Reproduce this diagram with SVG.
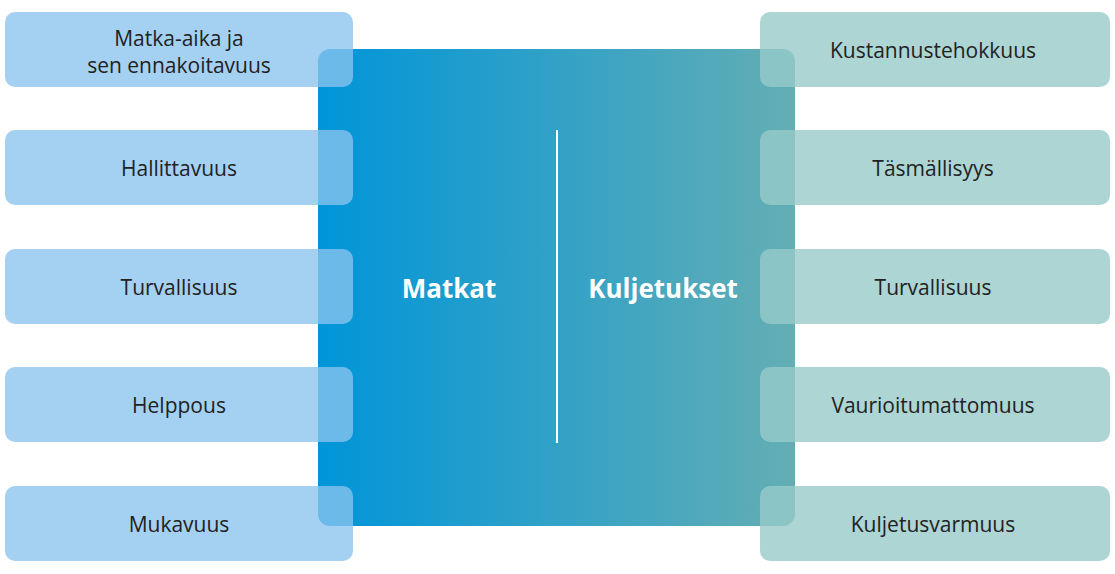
<svg xmlns="http://www.w3.org/2000/svg" width="1115" height="574" viewBox="0 0 1115 574">
<defs>
<linearGradient id="g" x1="0" y1="0" x2="1" y2="0">
<stop offset="0" stop-color="#0095d9"/>
<stop offset="1" stop-color="#64aeb4"/>
</linearGradient>
<style>
.l{fill:#8ac4ee;fill-opacity:0.78}
.r{fill:#97cac9;fill-opacity:0.8}
.t{font-family:"Open Sans","Liberation Sans",sans-serif;font-size:21px;fill:#222;text-anchor:middle}
.h{font-family:"Open Sans","Liberation Sans",sans-serif;font-size:26px;font-weight:bold;fill:#fff;text-anchor:middle}
</style>
</defs>
<g id="center">
<rect x="318" y="49" width="477" height="477" rx="12" fill="url(#g)"/>
<text class="h" x="449" y="298">Matkat</text>
<text class="h" x="663" y="298">Kuljetukset</text>
</g>
<g id="connectors">
<line x1="557" y1="130" x2="557" y2="443" stroke="#fff" stroke-width="2"/>
</g>
<g id="l1"><rect class="l" x="5" y="12" width="348" height="75" rx="10"/><text class="t" x="179" y="46">Matka-aika ja</text><text class="t" x="179" y="73">sen ennakoitavuus</text></g>
<g id="l2"><rect class="l" x="5" y="130" width="348" height="75" rx="10"/><text class="t" x="179" y="176">Hallittavuus</text></g>
<g id="l3"><rect class="l" x="5" y="249" width="348" height="75" rx="10"/><text class="t" x="179" y="295">Turvallisuus</text></g>
<g id="l4"><rect class="l" x="5" y="367" width="348" height="75" rx="10"/><text class="t" x="179" y="413">Helppous</text></g>
<g id="l5"><rect class="l" x="5" y="486" width="348" height="75" rx="10"/><text class="t" x="179" y="532">Mukavuus</text></g>
<g id="r1"><rect class="r" x="760" y="12" width="350" height="75" rx="10"/><text class="t" x="933" y="58">Kustannustehokkuus</text></g>
<g id="r2"><rect class="r" x="760" y="130" width="350" height="75" rx="10"/><text class="t" x="933" y="176">Täsmällisyys</text></g>
<g id="r3"><rect class="r" x="760" y="249" width="350" height="75" rx="10"/><text class="t" x="933" y="295">Turvallisuus</text></g>
<g id="r4"><rect class="r" x="760" y="367" width="350" height="75" rx="10"/><text class="t" x="933" y="413">Vaurioitumattomuus</text></g>
<g id="r5"><rect class="r" x="760" y="486" width="350" height="75" rx="10"/><text class="t" x="933" y="532">Kuljetusvarmuus</text></g>
</svg>
